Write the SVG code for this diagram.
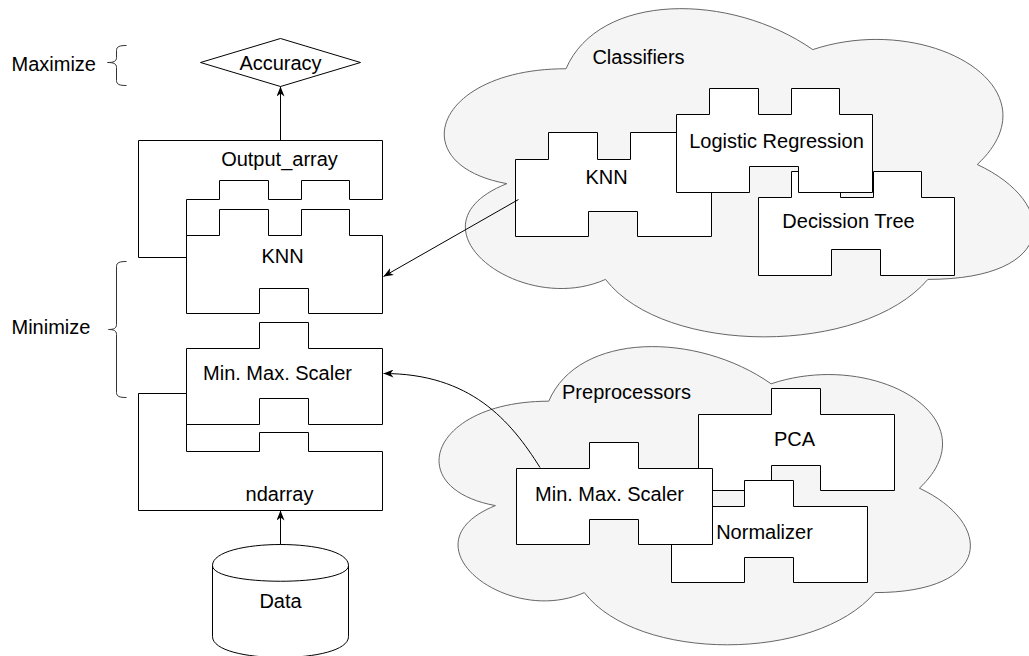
<svg xmlns="http://www.w3.org/2000/svg" width="1029" height="656" viewBox="0 0 1029 656">
<style>
  text { font-family: "Liberation Sans", Arial, Helvetica, sans-serif; font-size: 20px; fill: #000; }
  .c { text-anchor: middle; }
  .piece { fill: #fff; stroke: #000; stroke-width: 1; }
  .cloud { fill: #f5f5f5; stroke: #666; stroke-width: 1; }
  .edge { fill: none; stroke: #000; stroke-width: 1; }
  .brace { fill: none; stroke: #333; stroke-width: 1; }
</style>
<defs>
  <marker id="arrow" viewBox="0 0 10 8" markerWidth="10" markerHeight="8" refX="10" refY="4" orient="auto" markerUnits="userSpaceOnUse">
    <path d="M0,0 L10,4 L0,8 L3,4 Z" fill="#000"/>
  </marker>
</defs>
<rect x="0" y="0" width="1029" height="656" fill="#fff"/>
<g transform="translate(0.5 0.5)">
  <!-- Clouds -->
  <g id="classifiers-cloud">
    <path class="cloud" d="M565.5,68.25 C433.9,68.25 401,164 506.3,183.15 C401,225.3 519.4,317.2 605,278.9 C664.2,355.5 861.6,355.5 927.4,278.9 C1059,278.9 1059,202.3 976.75,164 C1059,87.4 927.4,10.8 812.25,49.1 C730,-8.35 598.4,-8.35 565.5,68.25 Z"/>
    <text class="c" x="638" y="63">Classifiers</text>
  </g>
  <g id="preprocessors-cloud">
    <path class="cloud" d="M548.25,400.7 C429.65,400.7 400,487.7 494.9,505.1 C400,543.4 506.7,626.9 583.8,592.1 C637.2,661.7 815.1,661.7 874.4,592.1 C993,592.1 993,522.5 918.9,487.7 C993,418.1 874.4,348.5 770.6,383.3 C696.5,331.1 577.9,331.1 548.25,400.7 Z"/>
    <text class="c" x="626" y="398">Preprocessors</text>
  </g>

  <!-- Classifier pieces -->
  <g id="cls-knn">
    <path class="piece" d="M515,159 H548 V132 H597 V159 H630 V132 H678 V159 H711 V236 H637 V211 H588 V236 H515 Z"/>
    <text class="c" x="606" y="183">KNN</text>
  </g>
  <g id="cls-decision-tree">
    <path class="piece" d="M758,197 H791 V171 H840 V197 H873 V171 H921 V197 H954 V275 H880 V249 H831 V275 H758 Z"/>
    <text class="c" x="848" y="227">Decission Tree</text>
  </g>
  <g id="cls-logistic-regression">
    <path class="piece" d="M676,114 H709 V88 H758 V114 H791 V88 H839 V114 H872 V192 H798 V166 H749 V192 H676 Z"/>
    <text class="c" x="776" y="147">Logistic Regression</text>
  </g>

  <!-- Preprocessor pieces -->
  <g id="pre-pca">
    <path class="piece" d="M698,414 H771 V388 H820 V414 H894 V490 H820 V465 H771 V490 H698 Z"/>
    <text class="c" x="794" y="445">PCA</text>
  </g>
  <g id="pre-normalizer">
    <path class="piece" d="M671,506 H744 V480 H793 V506 H867 V582 H793 V557 H744 V582 H671 Z"/>
    <text class="c" x="764" y="538">Normalizer</text>
  </g>
  <g id="pre-minmax">
    <path class="piece" d="M516,468 H589 V442 H638 V468 H712 V544 H638 V519 H589 V544 H516 Z"/>
    <text class="c" x="609" y="500">Min. Max. Scaler</text>
  </g>

  <!-- Pipeline column -->
  <g id="accuracy">
    <path class="piece" d="M200,62 L280,38 L360,62 L280,86 Z"/>
    <text class="c" x="280" y="69">Accuracy</text>
  </g>
  <g id="output-array">
    <path class="piece" d="M138,140 H382 V199 H349 V180 H301 V199 H268 V180 H219 V199 H186 V257 H138 Z"/>
    <text class="c" x="279" y="165">Output_array</text>
  </g>
  <g id="pipe-knn">
    <path class="piece" d="M186,235 H219 V209 H268 V235 H301 V209 H349 V235 H382 V313 H308 V288 H259 V313 H186 Z"/>
    <text class="c" x="282" y="262">KNN</text>
  </g>
  <g id="pipe-minmax">
    <path class="piece" d="M186,348 H259 V322 H308 V348 H382 V424 H308 V398 H259 V424 H186 Z"/>
    <text class="c" x="277" y="379">Min. Max. Scaler</text>
  </g>
  <g id="ndarray">
    <path class="piece" d="M138,393 H186 V451 H259 V432 H308 V451 H382 V510 H138 Z"/>
    <text class="c" x="279" y="500">ndarray</text>
  </g>
  <g id="data">
    <path class="piece" d="M212,565 C212,537 348,537 348,565 L348,636 C348,664 212,664 212,636 Z"/>
    <path class="edge" d="M212,565 C212,586 348,586 348,565"/>
    <text class="c" x="280" y="607">Data</text>
  </g>

  <!-- Labels with braces -->
  <g id="maximize">
    <text x="11" y="70">Maximize</text>
    <path class="brace" d="M126,45 C119,45 116,46 116,50 L116,57 C116,61 113,62 107,62 C113,62 116,63 116,67 L116,80 C116,84 119,85 126,85"/>
  </g>
  <g id="minimize">
    <text x="11" y="333">Minimize</text>
    <path class="brace" d="M126,261 C119,261 116,262 116,266 L116,324 C116,328 113,329 108,329 C113,329 116,330 116,334 L116,392 C116,396 119,397 126,397"/>
  </g>

  <!-- Connectors -->
  <g id="connectors">
    <path class="edge" d="M280,140 L280,86" marker-end="url(#arrow)"/>
    <path class="edge" d="M280,544 L280,510" marker-end="url(#arrow)"/>
    <path class="edge" d="M518,199 L383,276" marker-end="url(#arrow)"/>
    <path class="edge" d="M539.5,467 C510,420 470,373 383,373" marker-end="url(#arrow)"/>
  </g>
</g>
</svg>
